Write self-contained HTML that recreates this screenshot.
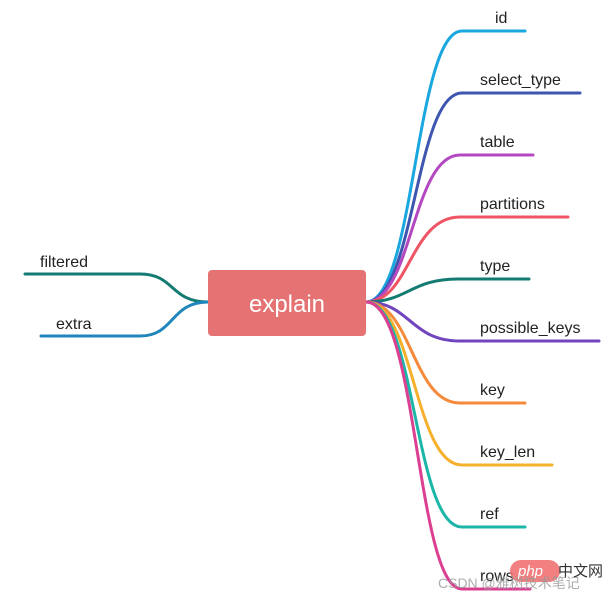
<!DOCTYPE html>
<html><head><meta charset="utf-8"><style>
html,body{margin:0;padding:0;background:#fff;width:609px;height:600px;overflow:hidden}
svg text{font-family:"Liberation Sans","Noto Sans CJK SC",sans-serif}
</style></head><body>
<svg width="609" height="600" viewBox="0 0 609 600" xmlns="http://www.w3.org/2000/svg">
<g fill="none" stroke-width="3" stroke-linecap="round">
<path d="M366,302 C415,302 415,31 462,31 L525,31" stroke="#1aa7e0"/>
<path d="M366,302 C415,302 415,93 462,93 L580,93" stroke="#3f56b0"/>
<path d="M366,302 C412,302 412,155 460,155 L533,155" stroke="#b348c0"/>
<path d="M366,302 C410,302 410,217 460,217 L568,217" stroke="#ef5565"/>
<path d="M366,302 C408,302 410,279 458,279 L529,279" stroke="#137b72"/>
<path d="M366,302 C410,302 410,341 460,341 L599,341" stroke="#7045be"/>
<path d="M366,302 C412,302 412,403 460,403 L525,403" stroke="#f48a3a"/>
<path d="M366,302 C414,302 414,465 462,465 L552,465" stroke="#f5b02c"/>
<path d="M366,302 C416,302 414,527 462,527 L525,527" stroke="#1bb6a8"/>
<path d="M366,302 C418,302 416,589 462,589 L530,589" stroke="#db3f92"/>
<path d="M208,302 C170,302 175,274 140,274 L25,274" stroke="#137b72"/>
<path d="M208,302 C170,302 175,336 140,336 L41,336" stroke="#1e86bb"/>
</g>
<rect x="208" y="270" width="158" height="66" rx="4" fill="#e57373"/>
<text x="287" y="312" font-size="24" fill="#fff" text-anchor="middle">explain</text>
<g font-size="16" fill="#222">
<text x="495" y="23">id</text>
<text x="480" y="85">select_type</text>
<text x="480" y="147">table</text>
<text x="480" y="209">partitions</text>
<text x="480" y="271">type</text>
<text x="480" y="333">possible_keys</text>
<text x="480" y="395">key</text>
<text x="480" y="457">key_len</text>
<text x="480" y="519">ref</text>
<text x="480" y="581">rows</text>
<text x="40" y="267">filtered</text>
<text x="56" y="329">extra</text>
</g>
<rect x="510" y="560" width="50" height="22" rx="11" fill="#f06a6a" opacity="0.85"/>
<text x="518" y="576" font-size="15" fill="#fff" font-style="italic">php</text>
<text x="558" y="576" font-size="15" fill="#333">中文网</text>
<text x="438" y="588" font-size="14" fill="#999" opacity="0.8">CSDN @雅树技术笔记</text>
</svg>
</body></html>
